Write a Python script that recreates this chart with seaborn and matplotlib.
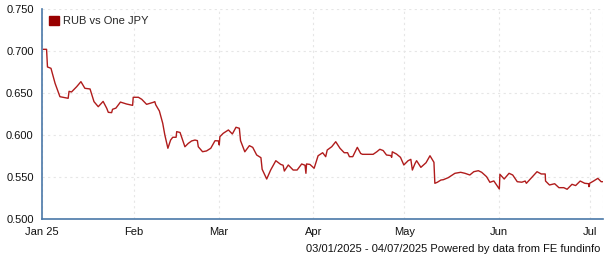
import matplotlib
matplotlib.use("Agg")
import matplotlib.pyplot as plt
import matplotlib.dates as mdates
from matplotlib.patches import Patch
import numpy as np
import pandas as pd
import seaborn as sns

# day offsets from 2025-01-01 and values
days = [1.2, 2.3, 2.6, 3.75, 5.1, 6.7, 7.8, 9.4, 9.7, 10.5, 12.2, 13.6, 14.9, 16.6, 17.9, 19.3,
        20.9, 22.1, 22.6, 23.7, 24.0, 25.1, 26.6, 28.6, 30.6, 30.8, 32.5, 33.6, 35.2, 37.4,
        37.9, 38.2, 39.4, 40.5, 41.2, 42.2, 43.1, 43.8, 44.9, 45.1, 46.2, 47.8, 48.9, 50.0,
        51.1, 51.9, 52.2, 53.6, 54.9, 56.3, 57.7, 58.8, 59.1, 59.3, 60.4, 62.1, 63.4, 64.6,
        65.7, 66.1, 67.5, 69.0, 70.1, 71.4, 72.8, 73.2, 74.7, 76.0, 77.7, 79.3, 80.1, 80.5,
        81.8, 83.4, 84.7, 86.2, 87.3, 87.6, 87.8, 88.9, 90.3, 91.6, 93.1, 94.1, 94.6, 96.1,
        97.4, 98.8, 100.2, 101.3, 101.9, 103.0, 104.5, 105.6, 106.2, 109.7, 110.9, 111.9,
        113.0, 114.1, 115.5, 115.8, 116.0, 117.4, 118.7, 119.8, 121.2, 122.1, 122.6, 123.5,
        124.0, 125.4, 127.1, 128.4, 129.7, 130.0, 130.8, 132.0, 132.8, 134.4, 136.6, 138.5,
        139.9, 141.5, 142.8, 144.3, 145.4, 147.0, 148.1, 149.4, 150.3, 151.2, 151.4, 152.8,
        154.4, 155.6, 157.1, 158.6, 159.7, 160.1, 162.1, 163.6, 165.0, 166.3, 166.4, 167.7,
        169.4, 170.8, 172.4, 173.5, 175.1, 176.3, 177.8, 179.3, 180.6, 180.7, 180.9, 182.2,
        183.6, 184.7, 185.2]
values = [0.702, 0.702, 0.681, 0.6794, 0.6615, 0.6456, 0.6448, 0.6437, 0.652, 0.6512, 0.6575,
          0.6635, 0.6556, 0.6548, 0.6397, 0.6337, 0.640, 0.6317, 0.627, 0.6266, 0.6306, 0.632,
          0.6392, 0.6369, 0.6353, 0.6449, 0.6449, 0.6425, 0.6365, 0.6389, 0.6397, 0.636, 0.6286,
          0.614, 0.600, 0.5842, 0.594, 0.5973, 0.5973, 0.604, 0.603, 0.586, 0.590, 0.5929,
          0.594, 0.5933, 0.586, 0.5801, 0.581, 0.5842, 0.5932, 0.593, 0.5881, 0.598, 0.602,
          0.606, 0.6012, 0.6092, 0.608, 0.5932, 0.580, 0.5873, 0.5853, 0.5762, 0.573, 0.5592,
          0.5476, 0.5583, 0.5694, 0.5650, 0.564, 0.5571, 0.5643, 0.5583, 0.5583, 0.5655, 0.564,
          0.5544, 0.5655, 0.565, 0.5604, 0.5753, 0.5789, 0.5742, 0.5821, 0.5861, 0.592, 0.5842,
          0.5789, 0.5789, 0.5742, 0.5742, 0.5853, 0.5780, 0.577, 0.577, 0.580, 0.583, 0.5815,
          0.5762, 0.5755, 0.5734, 0.580, 0.5773, 0.5734, 0.5643, 0.5694, 0.571, 0.5583, 0.5662,
          0.5694, 0.5615, 0.5670, 0.5753, 0.5675, 0.5425, 0.5437, 0.5464, 0.5468, 0.5492,
          0.5544, 0.5556, 0.5544, 0.5524, 0.5563, 0.5575, 0.5556, 0.5504, 0.5437, 0.5453,
          0.5405, 0.5357, 0.5532, 0.5476, 0.5544, 0.5524, 0.5444, 0.5438, 0.5452, 0.5425,
          0.5504, 0.5563, 0.5536, 0.5536, 0.5452, 0.5405, 0.542, 0.5373, 0.5373, 0.5354,
          0.5413, 0.5398, 0.5452, 0.5425, 0.5420, 0.5385, 0.5425, 0.5452, 0.5484, 0.5444,
          0.5444]
series_name = "RUB vs One JPY"
month_ticks = ["2025-01-01", "2025-02-01", "2025-03-01", "2025-04-01", "2025-05-01",
               "2025-06-01", "2025-07-01"]
month_labels = ["Jan 25", "Feb", "Mar", "Apr", "May", "Jun", "Jul"]
y_ticks = [0.500, 0.550, 0.600, 0.650, 0.700, 0.750]
footer = "03/01/2025 - 04/07/2025 Powered by data from FE fundinfo"

base = pd.Timestamp("2025-01-01")
df = pd.DataFrame({
    "date": [base + pd.Timedelta(days=d) for d in days],
    "value": values,
})

sns.set_style("white")
plt.rcParams["font.family"] = ["Liberation Sans", "DejaVu Sans"]

fig = plt.figure(figsize=(6.05, 2.60), dpi=100)
ax = fig.add_axes([42 / 605, 41 / 260, 561 / 605, 210 / 260])

line_color = "#b01c1c"
sns.lineplot(data=df, x="date", y="value", ax=ax, color=line_color, linewidth=1.0)

xmin = base + pd.Timedelta(days=0.8)
xmax = base + pd.Timedelta(days=185.3)
ax.set_xlim(xmin, xmax)
ax.set_ylim(0.5, 0.75)

tick_dates = [pd.Timestamp(t) for t in month_ticks]
tick_dates[0] = xmin
ax.set_xticks(tick_dates)
ax.set_xticklabels(month_labels)
ax.set_xticks([xmax], minor=True)
ax.set_yticks(y_ticks)
ax.set_yticklabels([f"{v:.3f}" for v in y_ticks])

ax.set_xlabel("")
ax.set_ylabel("")

grid_color = "#e6e6e6"
ax.grid(True, axis="both", color=grid_color, linestyle=(0, (2, 3)), linewidth=0.8)
ax.axvline(xmax, color=grid_color, linestyle=(0, (2, 3)), linewidth=0.8)

spine_color = "#4a78a8"
for s in ["top", "right"]:
    ax.spines[s].set_visible(False)
for s in ["left", "bottom"]:
    ax.spines[s].set_color(spine_color)
    ax.spines[s].set_linewidth(1.2)

ax.tick_params(axis="both", which="both", length=4, width=1, color=spine_color,
               labelsize=8, labelcolor="#111111", direction="out")
ax.tick_params(axis="x", pad=2)
ax.tick_params(axis="y", pad=2)

handle = Patch(facecolor="#990000", edgecolor="#990000")
leg = ax.legend([handle], [series_name], loc="upper left", frameon=False,
                fontsize=8, handlelength=0.9, handleheight=0.9, handletextpad=0.4,
                borderaxespad=0.2, bbox_to_anchor=(0.0, 1.0))

fig.text(600 / 605, 1 - 249 / 260, footer, ha="right", va="center", fontsize=8,
         color="#111111")

fig.savefig("out.png", dpi=100)
